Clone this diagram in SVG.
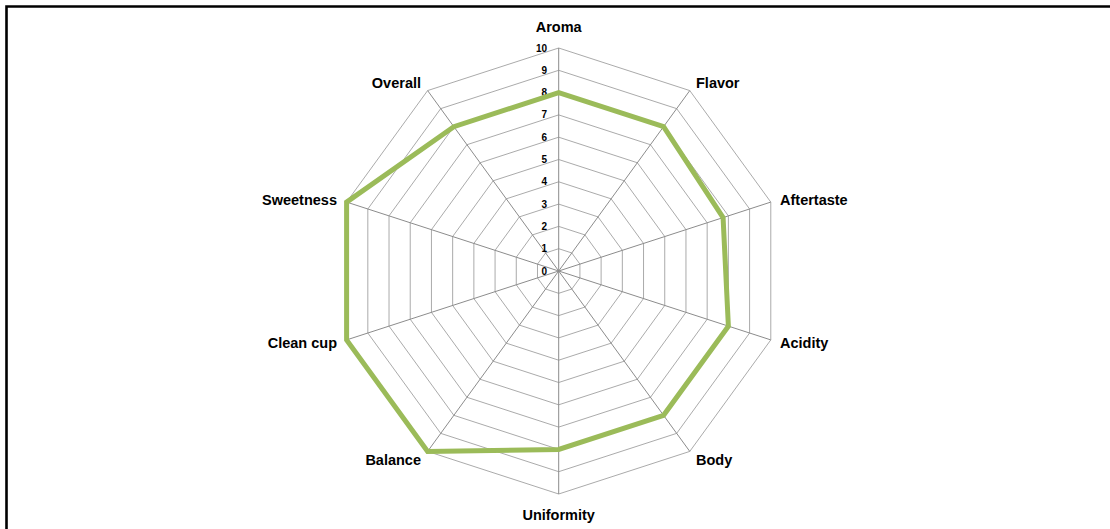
<svg xmlns="http://www.w3.org/2000/svg" width="1110" height="529" viewBox="0 0 1110 529">
<style>
.grid{fill:none;stroke:#a0a0a0;stroke-width:0.9}
.axis{stroke:#8c8c8c;stroke-width:1}
.lbl{font-family:"Liberation Sans",Arial,sans-serif;font-weight:bold;font-size:14.5px;fill:#000}
.tick{font-family:"Liberation Sans",Arial,sans-serif;font-weight:bold;font-size:10px;fill:#000;text-anchor:end}
.data{fill:none;stroke:#9bbb59;stroke-width:5;stroke-linejoin:miter}
</style>
<rect x="0" y="0" width="1110" height="529" fill="#fff"/>
<path d="M6.5 529 V6.5 H1110" fill="none" stroke="#000" stroke-width="2.6"/>
<g id="grid">
<g transform="translate(558.7 271)">
<polygon class="grid" vector-effect="non-scaling-stroke" transform="scale(22.3)" points="0,-1 0.5878,-0.809 0.9511,-0.309 0.9511,0.309 0.5878,0.809 0,1 -0.5878,0.809 -0.9511,0.309 -0.9511,-0.309 -0.5878,-0.809"/>
<polygon class="grid" vector-effect="non-scaling-stroke" transform="scale(44.6)" points="0,-1 0.5878,-0.809 0.9511,-0.309 0.9511,0.309 0.5878,0.809 0,1 -0.5878,0.809 -0.9511,0.309 -0.9511,-0.309 -0.5878,-0.809"/>
<polygon class="grid" vector-effect="non-scaling-stroke" transform="scale(66.9)" points="0,-1 0.5878,-0.809 0.9511,-0.309 0.9511,0.309 0.5878,0.809 0,1 -0.5878,0.809 -0.9511,0.309 -0.9511,-0.309 -0.5878,-0.809"/>
<polygon class="grid" vector-effect="non-scaling-stroke" transform="scale(89.2)" points="0,-1 0.5878,-0.809 0.9511,-0.309 0.9511,0.309 0.5878,0.809 0,1 -0.5878,0.809 -0.9511,0.309 -0.9511,-0.309 -0.5878,-0.809"/>
<polygon class="grid" vector-effect="non-scaling-stroke" transform="scale(111.5)" points="0,-1 0.5878,-0.809 0.9511,-0.309 0.9511,0.309 0.5878,0.809 0,1 -0.5878,0.809 -0.9511,0.309 -0.9511,-0.309 -0.5878,-0.809"/>
<polygon class="grid" vector-effect="non-scaling-stroke" transform="scale(133.8)" points="0,-1 0.5878,-0.809 0.9511,-0.309 0.9511,0.309 0.5878,0.809 0,1 -0.5878,0.809 -0.9511,0.309 -0.9511,-0.309 -0.5878,-0.809"/>
<polygon class="grid" vector-effect="non-scaling-stroke" transform="scale(156.1)" points="0,-1 0.5878,-0.809 0.9511,-0.309 0.9511,0.309 0.5878,0.809 0,1 -0.5878,0.809 -0.9511,0.309 -0.9511,-0.309 -0.5878,-0.809"/>
<polygon class="grid" vector-effect="non-scaling-stroke" transform="scale(178.4)" points="0,-1 0.5878,-0.809 0.9511,-0.309 0.9511,0.309 0.5878,0.809 0,1 -0.5878,0.809 -0.9511,0.309 -0.9511,-0.309 -0.5878,-0.809"/>
<polygon class="grid" vector-effect="non-scaling-stroke" transform="scale(200.7)" points="0,-1 0.5878,-0.809 0.9511,-0.309 0.9511,0.309 0.5878,0.809 0,1 -0.5878,0.809 -0.9511,0.309 -0.9511,-0.309 -0.5878,-0.809"/>
<polygon class="grid" vector-effect="non-scaling-stroke" transform="scale(223)" points="0,-1 0.5878,-0.809 0.9511,-0.309 0.9511,0.309 0.5878,0.809 0,1 -0.5878,0.809 -0.9511,0.309 -0.9511,-0.309 -0.5878,-0.809"/>
</g>
</g>
<g id="connectors">
<line class="axis" x1="558.7" y1="271" x2="558.7" y2="48"/>
<line class="axis" x1="558.7" y1="271" x2="689.78" y2="90.59"/>
<line class="axis" x1="558.7" y1="271" x2="770.8" y2="202.09"/>
<line class="axis" x1="558.7" y1="271" x2="770.8" y2="339.91"/>
<line class="axis" x1="558.7" y1="271" x2="689.78" y2="451.41"/>
<line class="axis" x1="558.7" y1="271" x2="558.7" y2="494"/>
<line class="axis" x1="558.7" y1="271" x2="427.62" y2="451.41"/>
<line class="axis" x1="558.7" y1="271" x2="346.6" y2="339.91"/>
<line class="axis" x1="558.7" y1="271" x2="346.6" y2="202.09"/>
<line class="axis" x1="558.7" y1="271" x2="427.62" y2="90.59"/>
</g>
<g id="ticks">
<text class="tick" x="547" y="274.5">0</text>
<text class="tick" x="547" y="252.2">1</text>
<text class="tick" x="547" y="229.9">2</text>
<text class="tick" x="547" y="207.6">3</text>
<text class="tick" x="547" y="185.3">4</text>
<text class="tick" x="547" y="163">5</text>
<text class="tick" x="547" y="140.7">6</text>
<text class="tick" x="547" y="118.4">7</text>
<text class="tick" x="547" y="96.1">8</text>
<text class="tick" x="547" y="73.8">9</text>
<text class="tick" x="547" y="51.5">10</text>
</g>
<g id="series">
<polygon class="data" points="558.7,92.6 663.56,126.67 723.08,217.6 728.38,326.13 663.56,415.33 558.7,449.4 427.62,451.41 346.6,339.91 346.6,202.09 453.84,126.67"/>
</g>
<g id="node-aroma"><text class="lbl" x="558.7" y="32" text-anchor="middle">Aroma</text></g>
<g id="node-flavor"><text class="lbl" x="696" y="88">Flavor</text></g>
<g id="node-aftertaste"><text class="lbl" x="780" y="205">Aftertaste</text></g>
<g id="node-acidity"><text class="lbl" x="780" y="348">Acidity</text></g>
<g id="node-body"><text class="lbl" x="696" y="465">Body</text></g>
<g id="node-uniformity"><text class="lbl" x="558.7" y="520" text-anchor="middle">Uniformity</text></g>
<g id="node-balance"><text class="lbl" x="421" y="465" text-anchor="end">Balance</text></g>
<g id="node-cleancup"><text class="lbl" x="337" y="348" text-anchor="end">Clean cup</text></g>
<g id="node-sweetness"><text class="lbl" x="337" y="205" text-anchor="end">Sweetness</text></g>
<g id="node-overall"><text class="lbl" x="421" y="88" text-anchor="end">Overall</text></g>
</svg>
